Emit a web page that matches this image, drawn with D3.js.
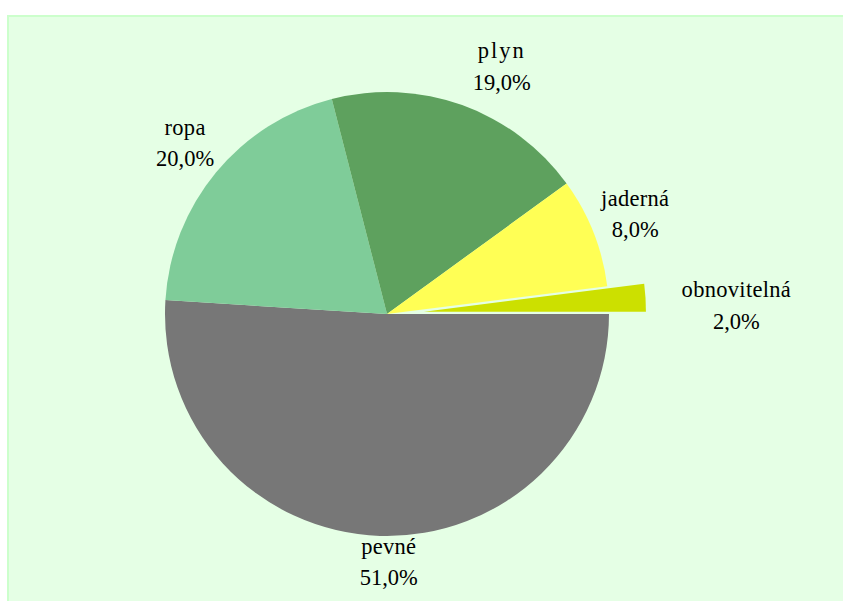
<!DOCTYPE html>
<html>
<head>
<meta charset="utf-8">
<script src="https://cdn.jsdelivr.net/npm/d3@7"></script>
<style>
	body { margin: 0; background: #fff; }
	svg text { font-family: "Liberation Serif", "Times New Roman", "DejaVu Serif", serif; font-size: 22.5px; fill: #000; }
</style>
</head>
<body>
<div id="chart"></div>
<script>
// data, in drawing order (clockwise from 3 o'clock)
var categories = ['pevné', 'ropa', 'plyn', 'jaderná', 'obnovitelná'];
var shares = [51.0, 20.0, 19.0, 8.0, 2.0];
var colors = ['#777777', '#7FCC99', '#5EA15E', '#FFFF55', '#CCE000'];
var exploded = [0, 0, 0, 0, 1];

var width = 843, height = 601;
var cx = 387, cy = 314, radius = 222, explode = 37;
// small label nudges (Excel best-fit placement)
var labelNudge = [[10, -19], [0, -9], [26, -6], [0, -9], [26, 5]];

var svg = d3.select('#chart')
	.append('svg')
	.attr('width', width)
	.attr('height', height);

svg.append('rect')
	.attr('x', 8)
	.attr('y', 16)
	.attr('width', width)
	.attr('height', height)
	.attr('fill', '#E5FFE5')
	.attr('stroke', '#CCFFCC')
	.attr('stroke-width', 2);

var pie = d3.pie()
	.sort(null)
	.startAngle(Math.PI / 2)
	.endAngle(Math.PI / 2 + 2 * Math.PI)
	.value(function(d){ return d; });
var arcs = pie(shares);
var arc = d3.arc().innerRadius(0).outerRadius(radius);

function offset(d, r) {
	var a = (d.startAngle + d.endAngle) / 2;
	return [Math.sin(a) * r, -Math.cos(a) * r];
}

var g = svg.append('g')
	.attr('transform', 'translate(' + cx + ',' + cy + ')');

g.selectAll('path')
	.data(arcs)
	.enter()
	.append('path')
	.attr('d', arc)
	.attr('transform', function(d, i){
		var o = offset(d, exploded[i] * explode);
		return 'translate(' + o[0] + ',' + o[1] + ')';
	})
	.attr('fill', function(d, i){ return colors[i]; });

var fmt = function(v){ return v.toFixed(1).replace('.', ',') + '%'; };

var labels = g.selectAll('text.lbl')
	.data(arcs)
	.enter()
	.append('text')
	.attr('class', 'lbl')
	.attr('text-anchor', 'middle')
	.attr('transform', function(d, i){
		var a = (d.startAngle + d.endAngle) / 2;
		var s = Math.sin(a), c = -Math.cos(a);
		var r = radius + 10 + exploded[i] * explode;
		var boxW = Math.max(categories[i].length * 10, 60), boxH = 60;
		var x = s * r + s * boxW / 2 + labelNudge[i][0];
		var y = c * r + c * boxH / 2 + labelNudge[i][1];
		return 'translate(' + x + ',' + y + ')';
	});

labels.append('tspan')
	.attr('x', 0)
	.attr('dy', -3)
	.attr('letter-spacing', function(d, i){ return categories[i] == 'plyn' ? 2 : 0.3; })
	.text(function(d, i){ return categories[i]; });
labels.append('tspan')
	.attr('x', 0)
	.attr('dy', 31.5)
	.text(function(d){ return fmt(d.data); });
</script>
</body>
</html>
